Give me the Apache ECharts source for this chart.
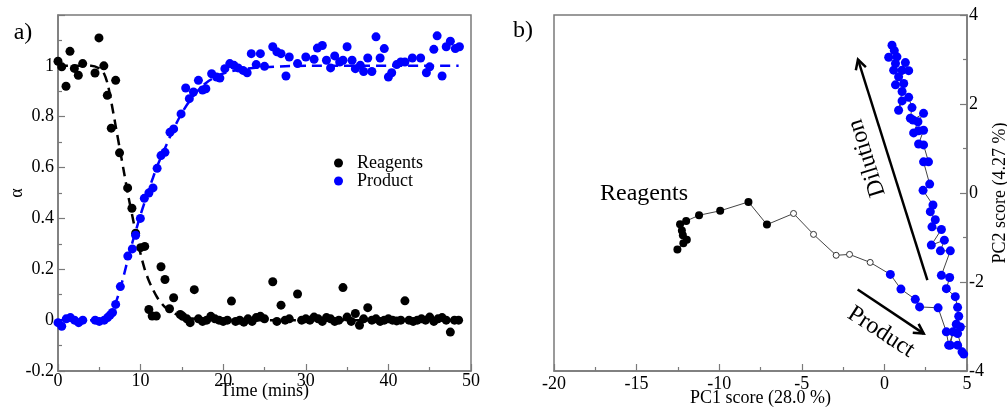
<!DOCTYPE html>
<html>
<head>
<meta charset="utf-8" />
<title></title>
</head>
<body style="margin:0">
<div id="main" style="width:1007px;height:410px"></div>
<script src="https://cdn.jsdelivr.net/npm/echarts@6/dist/echarts.min.js"></script>
<script type="text/javascript">
// panel a) : time (mins) vs alpha
var reagentsPts = [
    [0, 1.018], [0.45, 0.996], [0.97, 0.92], [1.45, 1.057], [1.98, 0.99], [2.46, 0.963], [2.99, 1.009],
    [4.48, 0.972], [4.96, 1.11], [5.55, 1.0], [5.97, 0.884], [6.45, 0.755], [6.98, 0.943], [7.45, 0.658],
    [8.43, 0.52], [8.95, 0.44], [9.4, 0.342], [10.0, 0.285], [10.5, 0.29], [11.0, 0.042], [11.4, 0.016],
    [11.9, 0.016], [12.47, 0.21], [12.95, 0.16], [13.5, 0.045], [14.0, 0.088], [14.8, 0.022], [15.1, 0.015],
    [15.6, 0.005], [16.0, -0.01], [16.5, 0.12], [17, 0.005], [17.5, -0.005], [18, 0.0], [18.5, 0.015],
    [19, 0.005], [19.5, 0.0], [20, -0.005], [20.5, 0.0], [21, 0.075], [21.5, -0.005], [22, 0.0],
    [22.5, -0.008], [23, 0.005], [23.5, -0.005], [24, 0.01], [24.5, 0.015], [25, 0.005], [26, 0.151],
    [26.5, -0.005], [27, 0.059], [27.5, 0.0], [28, 0.005], [29, 0.103], [29.5, 0.0], [30, 0.005],
    [30.5, 0.0], [31, 0.012], [31.5, 0.005], [32, -0.005], [32.5, 0.01], [33, 0.005], [33.5, -0.005],
    [34, 0.0], [34.5, 0.128], [35, 0.012], [35.5, -0.005], [36, 0.026], [36.5, -0.02], [37, 0.005],
    [37.5, 0.049], [38, 0.0], [38.5, 0.005], [39, -0.005], [39.5, 0.0], [40, 0.005], [40.5, 0.0],
    [41, -0.003], [41.5, 0.0], [42, 0.076], [42.5, 0.0], [43, -0.005], [43.5, 0.0], [44, 0.005],
    [44.5, 0.0], [45, 0.012], [45.5, -0.005], [46, 0.005], [46.5, 0.01], [47, 0.0], [47.5, -0.047],
    [48, 0.0], [48.5, 0.0]
];
var productPts = [
    [0, -0.01], [0.45, -0.024], [1.0, 0.005], [1.5, 0.01], [2.0, 0.0], [2.5, -0.01], [3.0, 0.0],
    [4.5, 0.0], [5.0, -0.005], [5.6, 0.0], [6.0, 0.01], [6.3, 0.02], [6.6, 0.03], [6.98, 0.062],
    [7.55, 0.132], [8.45, 0.252], [9.0, 0.28], [9.4, 0.334], [9.97, 0.40], [10.45, 0.479], [11.0, 0.50],
    [11.5, 0.52], [12.0, 0.597], [12.47, 0.647], [12.95, 0.66], [13.56, 0.739], [14.0, 0.752],
    [14.9, 0.811], [15.46, 0.913], [15.9, 0.871], [16.4, 0.897], [17.0, 0.943], [17.5, 0.905],
    [17.9, 0.91], [18.6, 0.969], [19.2, 0.956], [19.6, 0.952], [20.2, 0.989], [20.8, 1.009],
    [21.3, 1.002], [21.8, 0.992], [22.4, 0.982], [22.9, 0.973], [23.4, 1.048], [24.0, 1.005],
    [24.5, 1.048], [25.0, 0.998], [26.0, 1.075], [26.5, 1.055], [27.0, 1.048], [27.6, 0.96],
    [28.0, 1.035], [29.0, 1.009], [30.0, 1.035], [31.0, 1.026], [31.4, 1.07], [32.0, 1.08],
    [32.5, 1.022], [33.0, 0.992], [33.5, 1.039], [34.1, 1.015], [34.5, 1.022], [35.0, 1.075],
    [35.6, 1.022], [36.0, 0.989], [36.6, 1.002], [37.0, 0.978], [37.5, 1.031], [38.0, 0.978],
    [38.5, 1.114], [39.0, 1.031], [39.5, 1.068], [40.0, 0.956], [40.4, 0.973], [41.0, 1.005],
    [41.5, 1.015], [42.0, 1.015], [42.9, 1.031], [43.9, 1.031], [44.6, 0.973], [45.0, 0.996],
    [45.5, 1.065], [45.9, 1.118], [46.5, 0.96], [47.0, 1.075], [47.5, 1.097], [48.1, 1.068], [48.6, 1.075]
];
var reagentFit = [
    [0, 1.0], [4, 1.0], [5, 0.99], [5.5, 0.975], [6, 0.93], [6.5, 0.85], [7, 0.76], [7.5, 0.67],
    [8, 0.58], [8.5, 0.49], [9, 0.41], [9.5, 0.33], [10, 0.26], [10.5, 0.2], [11, 0.155], [11.5, 0.12],
    [12, 0.09], [12.5, 0.068], [13, 0.05], [14, 0.028], [15, 0.015], [16, 0.007], [18, 0.002],
    [20, 0], [48.5, 0]
];
var productFit = [
    [0, 0], [5, 0], [5.5, 0.003], [6, 0.013], [6.5, 0.035], [7, 0.07], [7.5, 0.12], [8, 0.18],
    [8.5, 0.245], [9, 0.305], [9.5, 0.36], [10, 0.415], [10.5, 0.465], [11, 0.515], [11.5, 0.56],
    [12, 0.605], [13, 0.68], [14, 0.752], [15, 0.815], [16, 0.865], [17, 0.905], [18, 0.935],
    [19, 0.955], [20, 0.97], [22, 0.985], [25, 0.995], [30, 1.0], [48.5, 1.0]
];

// panel b) : PC1 vs PC2 scores
var pcaReagents = [
    [-12.53, -1.27], [-12.17, -1.13], [-11.96, -1.05], [-12.2, -0.95], [-12.26, -0.84], [-12.37, -0.70],
    [-12.0, -0.63], [-11.22, -0.5], [-9.94, -0.40], [-8.23, -0.2], [-7.11, -0.71]
];
var pcaOpen = [
    [-5.5, -0.46], [-4.29, -0.93], [-2.92, -1.40], [-2.11, -1.38], [-0.86, -1.56]
];
var pcaProduct = [
    [0.36, -1.83], [1.0, -2.16], [1.87, -2.39], [2.13, -2.56], [3.25, -2.58], [3.75, -3.12], [3.89, -3.42],
    [4.35, -2.95], [4.6, -3.01], [4.15, -3.12], [3.99, -3.42], [4.43, -3.42], [4.70, -3.57], [4.8, -3.62],
    [4.43, -3.16], [4.5, -2.77], [4.43, -2.57], [4.29, -2.33], [3.75, -2.15], [3.95, -1.90], [3.45, -1.85],
    [3.99, -1.30], [3.39, -1.30], [3.63, -1.06], [2.84, -1.17], [3.45, -0.82], [2.88, -0.76], [3.08, -0.60],
    [2.78, -0.42], [2.94, -0.27], [2.34, 0.06], [2.74, 0.20], [2.37, 0.70], [2.67, 0.70], [2.37, 1.08],
    [2.07, 1.10], [2.37, 1.41], [2.07, 1.40], [1.77, 1.35], [2.03, 1.60], [2.37, 1.79], [1.73, 1.64],
    [1.57, 1.68], [1.67, 1.92], [1.47, 2.15], [1.07, 2.07], [0.86, 1.86], [1.07, 2.28], [1.17, 2.46],
    [0.67, 2.43], [0.86, 2.61], [1.47, 2.75], [1.27, 2.93], [1.07, 2.76], [0.56, 2.76], [0.67, 2.91],
    [0.76, 3.06], [0.26, 3.05], [0.60, 3.20], [0.46, 3.32]
];
var dilutionArrow = [[2.6, -1.96], [-1.6, 3.0]];
var productArrow = [[-1.62, -2.17], [2.38, -3.16]];

var FONT = 'Liberation Serif';
var AXIS_COLOR = '#7a7a7a';

function axisCommon(extra) {
    var base = {
        type: 'value',
        nameMoveOverlap: false,
        splitLine: { show: false },
        axisLine: { show: true, onZero: false, lineStyle: { color: AXIS_COLOR, width: 1.5 } },
        axisTick: { show: true, inside: true, length: 7, lineStyle: { color: AXIS_COLOR, width: 1.2 } },
        minorTick: { show: true, splitNumber: 2, length: 4, lineStyle: { color: AXIS_COLOR, width: 1.2 } },
        axisLabel: { color: '#000', fontFamily: FONT, fontSize: 18 },
        nameTextStyle: { color: '#000', fontFamily: FONT, fontSize: 18 }
    };
    for (var k in extra) {
        if (typeof extra[k] === 'object' && base[k] && !Array.isArray(extra[k])) {
            base[k] = Object.assign({}, base[k], extra[k]);
        } else {
            base[k] = extra[k];
        }
    }
    return base;
}

var myChart = echarts.init(document.getElementById('main'));
var option = {
    backgroundColor: '#fff',
    animation: false,
    grid: [
        { left: 58, top: 15, width: 413, height: 356, show: true, borderColor: AXIS_COLOR, borderWidth: 1.5,
            outerBoundsMode: 'none', containLabel: false },
        { left: 554, top: 15, width: 413, height: 356, show: true, borderColor: AXIS_COLOR, borderWidth: 1.5,
            outerBoundsMode: 'none', containLabel: false }
    ],
    xAxis: [
        axisCommon({ gridIndex: 0, min: 0, max: 50, interval: 10, name: 'Time (mins)',
            nameLocation: 'middle', nameGap: 11, axisLabel: { margin: 1 } }),
        axisCommon({ gridIndex: 1, min: -20, max: 5, interval: 5, name: 'PC1 score (28.0 %)',
            nameLocation: 'middle', nameGap: 18, axisLabel: { margin: 4 } })
    ],
    yAxis: [
        axisCommon({ gridIndex: 0, min: -0.2, max: 1.2, interval: 0.2, name: 'α',
            nameLocation: 'middle', nameGap: 32,
            axisLabel: { margin: 4, formatter: function (v) { return v > 1.1 ? '' : String(+v.toFixed(1)); } } }),
        axisCommon({ gridIndex: 1, position: 'right', min: -4, max: 4, interval: 2, name: 'PC2 score (4.27 %)',
            nameLocation: 'middle', nameGap: 24, nameRotate: 90, axisLabel: { margin: 2 } })
    ],
    legend: {
        data: ['Reagents', 'Product'],
        orient: 'vertical',
        left: 329,
        top: 149,
        itemWidth: 27,
        itemHeight: 9,
        itemGap: 0,
        icon: 'circle',
        selectedMode: false,
        textStyle: { color: '#000', fontFamily: FONT, fontSize: 18, lineHeight: 18 }
    },
    series: [
        {
            type: 'line', xAxisIndex: 0, yAxisIndex: 0, data: reagentFit, smooth: 0.3, showSymbol: false,
            lineStyle: { color: '#000', width: 2.5, type: [10, 6] }, z: 3
        },
        {
            type: 'line', xAxisIndex: 0, yAxisIndex: 0, data: productFit, smooth: 0.3, showSymbol: false,
            lineStyle: { color: '#0000ff', width: 2.5, type: [10, 6] }, z: 3
        },
        {
            name: 'Reagents', type: 'scatter', xAxisIndex: 0, yAxisIndex: 0, data: reagentsPts,
            symbolSize: 9, itemStyle: { color: '#000', opacity: 1 }, z: 4
        },
        {
            name: 'Product', type: 'scatter', xAxisIndex: 0, yAxisIndex: 0, data: productPts,
            symbolSize: 9, itemStyle: { color: '#0000ff', opacity: 1 }, z: 4
        },
        {
            type: 'line', xAxisIndex: 1, yAxisIndex: 1, data: pcaReagents.concat(pcaOpen, pcaProduct),
            showSymbol: false, lineStyle: { color: '#444', width: 1 }, z: 2
        },
        {
            type: 'scatter', xAxisIndex: 1, yAxisIndex: 1, data: pcaReagents, symbolSize: 8,
            itemStyle: { color: '#000', opacity: 1 }, z: 4
        },
        {
            type: 'scatter', xAxisIndex: 1, yAxisIndex: 1, data: pcaOpen, symbolSize: 6,
            itemStyle: { color: '#fff', borderColor: '#333', borderWidth: 1, opacity: 1 }, z: 4
        },
        {
            type: 'scatter', xAxisIndex: 1, yAxisIndex: 1, data: pcaProduct, symbolSize: 9,
            itemStyle: { color: '#0000ff', opacity: 1 }, z: 4
        }
    ]
};
myChart.setOption(option);

// arrows (data coords -> pixels) and text notes
function arrow(pair) {
    var a = myChart.convertToPixel({ xAxisIndex: 1, yAxisIndex: 1 }, pair[0]);
    var b = myChart.convertToPixel({ xAxisIndex: 1, yAxisIndex: 1 }, pair[1]);
    var ang = Math.atan2(b[1] - a[1], b[0] - a[0]);
    var len = 11, spread = 0.5;
    var h1 = [b[0] - len * Math.cos(ang - spread), b[1] - len * Math.sin(ang - spread)];
    var h2 = [b[0] - len * Math.cos(ang + spread), b[1] - len * Math.sin(ang + spread)];
    var st = { stroke: '#000', lineWidth: 2.5, fill: null };
    return [
        { type: 'line', shape: { x1: a[0], y1: a[1], x2: b[0], y2: b[1] }, style: st, z: 10 },
        { type: 'polyline', shape: { points: [h1, b, h2] }, style: st, z: 10 }
    ];
}

function note(text, x, y, size, rot, align) {
    return {
        type: 'text', x: x, y: y, rotation: rot || 0, z: 10,
        style: { text: text, fill: '#000', fontFamily: FONT, fontSize: size,
            align: align || 'center', verticalAlign: 'middle' }
    };
}

myChart.setOption({
    graphic: [
        note('a)', 23, 33, 24),
        note('b)', 523, 31, 24),
        note('Reagents', 600, 194, 24, 0, 'left'),
        note('Dilution', 867, 158, 24, 107.5 * Math.PI / 180),
        note('Product', 881, 332, 24, -33 * Math.PI / 180)
    ].concat(arrow(dilutionArrow), arrow(productArrow))
});
</script>
</body>
</html>
